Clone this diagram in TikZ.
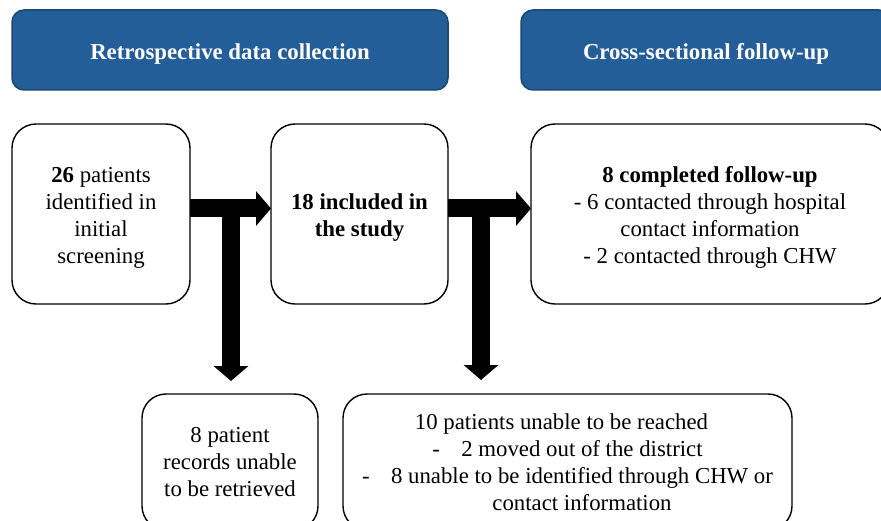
\documentclass[tikz,border=0pt]{standalone}
\usepackage{fontspec}
\setmainfont{Liberation Serif}
\usetikzlibrary{arrows.meta}
\definecolor{hdrfill}{HTML}{245E99}
\definecolor{hdrline}{HTML}{1B4872}
% centred lines, set a little below the middle of their box
\newcommand{\lowtext}[1]{\raisebox{-4pt}[\height][\depth]{\begin{tabular}{@{}c@{}}#1\end{tabular}}}
\begin{document}
\begin{tikzpicture}[x=1pt,y=-1pt,
  every node/.style={font=\fontsize{22.8}{27}\selectfont, inner sep=0pt, outer sep=0pt},
  header/.style={draw=hdrline, fill=hdrfill, line width=1.5pt, rounded corners=12pt,
    text=white, font=\fontsize{22.8}{27}\selectfont\bfseries, minimum height=80pt},
  card/.style={draw=black, line width=1.4pt, rounded corners=24pt, align=center,
    minimum height=180pt},
  lowcard/.style={card, minimum height=136pt},
  flow/.style={line width=18pt, -{Triangle[width=34pt,length=15pt]}}
]
\clip (0,0) rectangle (881,521);
\fill[white] (0,0) rectangle (881,521);

% phase headers
\node[header, minimum width=436pt] (h1) at (230,50) {\lowtext{Retrospective data collection}};
\node[header, minimum width=370pt] (h2) at (706,50) {\lowtext{Cross-sectional follow-up}};

% main flow
\node[card, minimum width=178pt] (b1) at (101,214)
  {\lowtext{\textbf{26} patients\\identified in\\initial\\screening}};
\node[card, minimum width=177pt, font=\fontsize{22.8}{27}\selectfont\bfseries] (b2) at (359.5,214)
  {\lowtext{18 included in\\the study}};
\node[card, minimum width=358pt] (b3) at (710,214)
  {\lowtext{\textbf{8 completed follow-up}\\- 6 contacted through hospital\\contact information\\- 2 contacted through CHW}};

% exclusions
\node[lowcard, minimum width=176pt] (b4) at (230,462)
  {8 patient\\records unable\\to be retrieved};
\node[lowcard, minimum width=449pt] (b5) at (567.5,462)
  {\hspace*{-12pt}10 patients unable to be reached\\
   \makebox[29pt][l]{-}2 moved out of the district\\
   \makebox[29pt][l]{-}8 unable to be identified through CHW or\\
   \hspace*{29pt}contact information};

% branching arrows
\coordinate (j1) at (231,208.5);
\coordinate (j2) at (481,208.5);
\draw[flow] (b1.east |- j1) -- (b2.west |- j1);
\draw[flow] (j1) -- ([yshift=13pt]j1 |- b4.north);
\draw[flow] (b2.east |- j2) -- (b3.west |- j2);
\draw[flow] (j2) -- ([yshift=14pt]j2 |- b5.north);
\end{tikzpicture}
\end{document}
